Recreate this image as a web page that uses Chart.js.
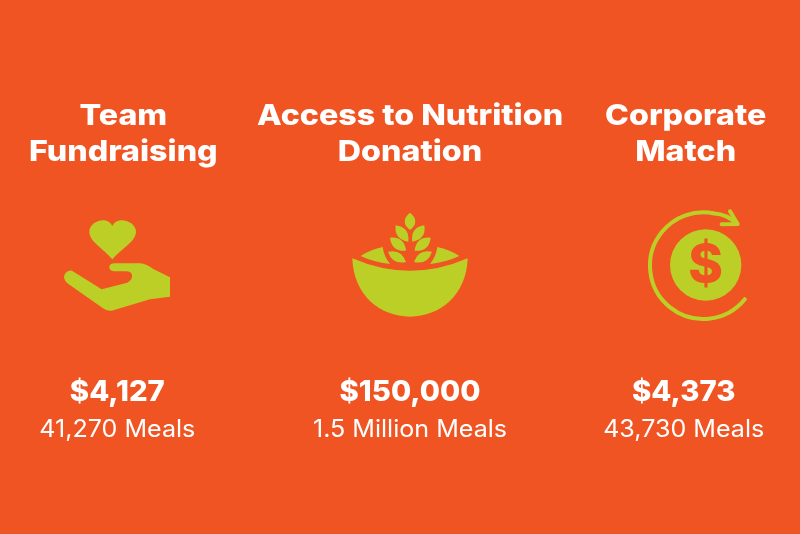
<!DOCTYPE html>
<html><head><meta charset="utf-8">
<style>html,body{margin:0;padding:0;background:#F05422;overflow:hidden}canvas{display:block}</style>
<script src="https://cdn.jsdelivr.net/npm/chart.js@4"></script>
</head><body><canvas id="c" width="800" height="534"></canvas>
<script>
const categories = [['Team','Fundraising'],['Access to Nutrition','Donation'],['Corporate','Match']];
const amounts = [4127, 150000, 4373];
const mealLabels = ['41,270 Meals','1.5 Million Meals','43,730 Meals'];

const ORANGE='#F05422', GREEN='#BCCF26', WHITE='#FFFFFF';
const HEAD='800 29px Inter, "Open Sans", sans-serif';
const SUB='400 24px Inter, "Open Sans", sans-serif';

function hand(ctx){
  ctx.translate(50,200);ctx.scale(1/3,1/3);ctx.fillStyle=GREEN;
  ctx.beginPath();ctx.moveTo(187,178);ctx.bezierCurveTo(160,145,118,125,118,95);
  ctx.bezierCurveTo(118,65,170,45,187,78);ctx.bezierCurveTo(204,45,258,65,258,95);
  ctx.bezierCurveTo(258,125,214,145,187,178);ctx.fill();
  ctx.beginPath();ctx.moveTo(72,216);ctx.lineTo(155,268);ctx.lineTo(232,248);
  ctx.quadraticCurveTo(248,240,246,226);ctx.quadraticCurveTo(244,214,228,214);
  ctx.lineTo(192,214);ctx.quadraticCurveTo(178,212,178,202);ctx.quadraticCurveTo(178,190,195,190);
  ctx.lineTo(270,190);ctx.quadraticCurveTo(290,192,310,207);ctx.lineTo(360,232);ctx.lineTo(360,290);
  ctx.lineTo(300,298);ctx.lineTo(185,332);ctx.quadraticCurveTo(170,334,158,324);ctx.lineTo(52,250);
  ctx.quadraticCurveTo(36,235,46,220);ctx.quadraticCurveTo(58,206,72,216);ctx.fill();
}
function leaf(ctx,x1,y1,x2,y2,w){
  const mx=(x1+x2)/2,my=(y1+y2)/2,dx=x2-x1,dy=y2-y1,l=Math.hypot(dx,dy),nx=-dy/l*w,ny=dx/l*w;
  ctx.beginPath();ctx.moveTo(x1,y1);ctx.quadraticCurveTo(mx+nx,my+ny,x2,y2);ctx.quadraticCurveTo(mx-nx,my-ny,x1,y1);ctx.fill();
}
function bowl(ctx){
  ctx.translate(340,200);ctx.scale(1/3,1/3);ctx.fillStyle=GREEN;
  ctx.beginPath();ctx.moveTo(37,175);ctx.quadraticCurveTo(210,250,383,175);
  ctx.bezierCurveTo(380,285,300,350,210,350);ctx.bezierCurveTo(120,350,40,285,37,175);ctx.fill();
  ctx.beginPath();ctx.moveTo(62,168);ctx.quadraticCurveTo(92,148,128,141);ctx.quadraticCurveTo(132,170,150,192);ctx.quadraticCurveTo(100,186,62,168);ctx.fill();
  ctx.beginPath();ctx.moveTo(358,168);ctx.quadraticCurveTo(328,148,292,141);ctx.quadraticCurveTo(288,170,270,192);ctx.quadraticCurveTo(320,186,358,168);ctx.fill();
  leaf(ctx,210,38,210,90,32);
  leaf(ctx,167,76,205,125,30);leaf(ctx,253,76,217,125,30);
  leaf(ctx,150,113,198,152,30);leaf(ctx,272,113,224,152,30);
  leaf(ctx,144,155,198,186,28);leaf(ctx,276,155,222,186,28);
}
function coin(ctx){
  ctx.translate(635,200);ctx.scale(1/3,1/3);ctx.fillStyle=GREEN;ctx.strokeStyle=GREEN;
  ctx.beginPath();ctx.arc(212,195,107,0,Math.PI*2);ctx.fill();
  ctx.lineWidth=12;ctx.lineCap='round';ctx.lineJoin='round';
  ctx.beginPath();ctx.arc(205,197,160,39*Math.PI/180,-78*Math.PI/180);ctx.quadraticCurveTo(275,42,306,72);ctx.stroke();
  ctx.beginPath();ctx.moveTo(285,34);ctx.lineTo(308,72);ctx.lineTo(260,73);ctx.stroke();
  ctx.fillStyle=ORANGE;ctx.font='800 158px Inter, sans-serif';ctx.textAlign='center';ctx.textBaseline='alphabetic';
  ctx.fillText('$',212,247);
}
const icons=[hand,bowl,coin];

function text(ctx,str,x,y,font,stretch){
  ctx.save();ctx.font=font;ctx.textAlign='center';ctx.textBaseline='alphabetic';ctx.fillStyle=WHITE;
  ctx.translate(x,y);ctx.scale(stretch,1);ctx.fillText(str,0,0);ctx.restore();
}
const titleNudge=[-10,10,19];
const valueNudge=[-16,10,17];
const infographic={id:'infographic',afterDatasetsDraw(chart){
  const {ctx,scales:{x}}=chart;
  categories.forEach((lines,i)=>{
    const base=x.getPixelForValue(i);
    lines.forEach((t,k)=>text(ctx,t,base+titleNudge[i],125+k*36,HEAD,1.11));
    text(ctx,'$'+amounts[i].toLocaleString('en-US'),base+valueNudge[i],401,HEAD,1.01);
    text(ctx,mealLabels[i],base+valueNudge[i],437,SUB,1.045);
    ctx.save();icons[i](ctx);ctx.restore();
  });
}};
new Chart(document.getElementById('c'),{
  type:'line',
  data:{labels:categories.map(l=>l.join(' ')),datasets:[{data:amounts,showLine:false,pointRadius:0,pointHoverRadius:0}]},
  options:{responsive:false,animation:false,devicePixelRatio:1,
    layout:{padding:0},
    plugins:{legend:{display:false},title:{display:false},tooltip:{enabled:false}},
    scales:{x:{display:false,offset:true},y:{display:false}}
  },
  plugins:[infographic,{id:'bg',beforeDraw(c){c.ctx.save();c.ctx.fillStyle=ORANGE;c.ctx.fillRect(0,0,c.width,c.height);c.ctx.restore();}}]
});
</script></body></html>
